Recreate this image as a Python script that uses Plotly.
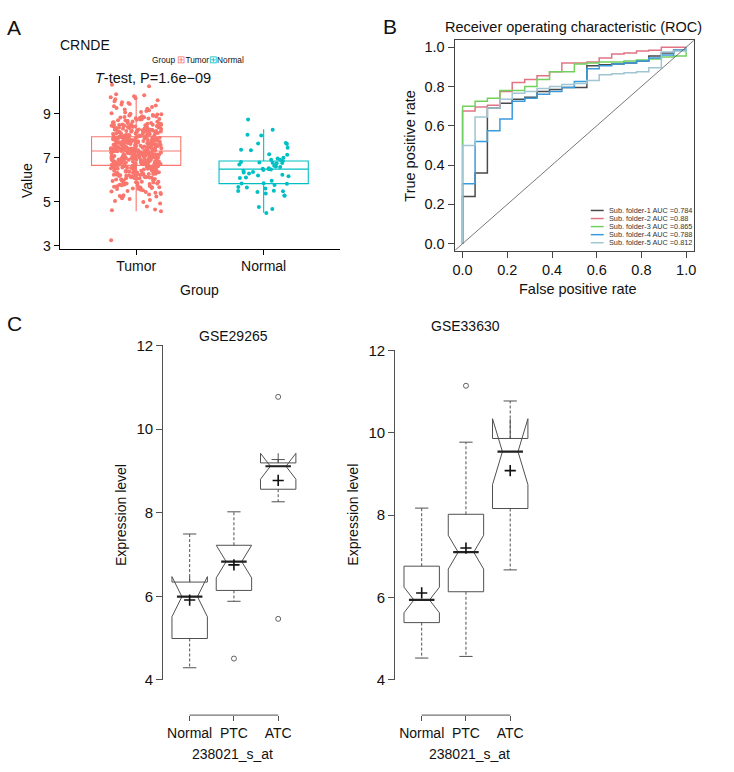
import math
import plotly.graph_objects as go

W, H = 734, 772
def fx(px): return px / W
def fy(py): return 1 - py / H

FONT = "Liberation Sans, Arial, Helvetica, sans-serif"

# ---------------- Panel A data ----------------
groups_a = ["Tumor", "Normal"]
colors_a = ["#F8766D", "#00BFC4"]
tumor_values = [
    3.25,
    4.57, 4.61, 4.64, 4.78, 4.92, 4.98,
    5.03, 5.07, 5.12, 5.16, 5.2, 5.23, 5.26, 5.29, 5.33, 5.35, 5.39, 5.41, 5.44, 5.46, 5.49,
    5.52, 5.54, 5.57, 5.59, 5.6, 5.62, 5.65, 5.66, 5.68, 5.7, 5.71, 5.73, 5.75, 5.77, 5.78,
    5.8, 5.82, 5.83, 5.85, 5.87, 5.88, 5.9, 5.91, 5.93, 5.94, 5.96, 5.97, 5.99, 5.64, 5.81,
    6.01, 6.03, 6.04, 6.06, 6.07, 6.09, 6.1, 6.11, 6.13, 6.14, 6.15, 6.17, 6.18, 6.19, 6.21,
    6.22, 6.23, 6.25, 6.26, 6.27, 6.28, 6.3, 6.31, 6.32, 6.34, 6.35, 6.36, 6.38, 6.39, 6.4,
    6.42, 6.43, 6.44, 6.45, 6.47, 6.48, 6.49, 6.02, 6.05, 6.08, 6.12, 6.16, 6.2, 6.24, 6.29,
    6.33, 6.37, 6.41, 6.46, 6.5, 6.19, 6.26, 6.31, 6.36, 6.42, 6.11, 6.23, 6.38, 6.45,
    6.51, 6.52, 6.53, 6.54, 6.55, 6.56, 6.57, 6.58, 6.59, 6.6, 6.61, 6.62, 6.63, 6.64, 6.65,
    6.66, 6.67, 6.68, 6.69, 6.7, 6.71, 6.72, 6.73, 6.74, 6.75, 6.76, 6.77, 6.78, 6.79, 6.8,
    6.81, 6.82, 6.83, 6.84, 6.85, 6.86, 6.87, 6.88, 6.89, 6.9, 6.91, 6.92, 6.93, 6.94, 6.95,
    6.96, 6.97, 6.98, 6.99, 6.52, 6.54, 6.57, 6.6, 6.62, 6.65, 6.68, 6.7, 6.73, 6.75, 6.77,
    6.8, 6.82, 6.85, 6.87, 6.9, 6.92, 6.94, 6.97, 6.99, 6.55, 6.59, 6.63, 6.67, 6.71, 6.74,
    6.78, 6.83, 6.86, 6.89, 6.93, 6.96, 6.53, 6.61, 6.69, 6.76, 6.84, 6.91, 6.98,
    7.01, 7.02, 7.03, 7.04, 7.05, 7.06, 7.07, 7.08, 7.09, 7.1, 7.11, 7.12, 7.13, 7.14, 7.15,
    7.16, 7.17, 7.18, 7.19, 7.2, 7.21, 7.22, 7.23, 7.24, 7.25, 7.26, 7.27, 7.28, 7.29, 7.3,
    7.31, 7.32, 7.33, 7.34, 7.35, 7.36, 7.37, 7.38, 7.39, 7.4, 7.41, 7.42, 7.43, 7.44, 7.45,
    7.46, 7.47, 7.48, 7.49, 7.5, 7.0, 7.03, 7.05, 7.06, 7.08, 7.1, 7.11, 7.13, 7.15, 7.16,
    7.18, 7.2, 7.21, 7.23, 7.25, 7.26, 7.28, 7.3, 7.31, 7.33, 7.35, 7.36, 7.38, 7.4, 7.41,
    7.43, 7.45, 7.46, 7.48, 7.49, 7.02, 7.07, 7.12, 7.17, 7.22, 7.27, 7.32, 7.37, 7.42, 7.47,
    7.04, 7.09, 7.14, 7.19, 7.24, 7.29, 7.34, 7.39, 7.44, 7.5,
    7.51, 7.52, 7.53, 7.54, 7.55, 7.56, 7.57, 7.58, 7.59, 7.6, 7.61, 7.62, 7.63, 7.64, 7.65,
    7.66, 7.67, 7.68, 7.69, 7.7, 7.71, 7.72, 7.73, 7.74, 7.75, 7.76, 7.77, 7.78, 7.79, 7.8,
    7.81, 7.82, 7.83, 7.84, 7.85, 7.86, 7.87, 7.88, 7.89, 7.9, 7.91, 7.92, 7.93, 7.94, 7.95,
    7.96, 7.97, 7.98, 7.99, 7.52, 7.54, 7.57, 7.6, 7.62, 7.65, 7.68, 7.7, 7.73, 7.75, 7.77,
    7.8, 7.82, 7.85, 7.87, 7.9, 7.92, 7.94, 7.97, 7.99, 7.55, 7.59, 7.63, 7.67, 7.71, 7.74,
    7.78, 7.83, 7.86, 7.89, 7.93, 7.96, 7.53, 7.61, 7.69, 7.76, 7.84, 7.91, 7.98,
    8.01, 8.02, 8.03, 8.04, 8.05, 8.06, 8.07, 8.08, 8.09, 8.1, 8.11, 8.12, 8.13, 8.14, 8.15,
    8.16, 8.17, 8.18, 8.19, 8.2, 8.21, 8.22, 8.23, 8.24, 8.25, 8.26, 8.27, 8.28, 8.29, 8.3,
    8.31, 8.32, 8.33, 8.34, 8.35, 8.36, 8.37, 8.38, 8.39, 8.4, 8.41, 8.42, 8.43, 8.44, 8.45,
    8.46, 8.47, 8.48, 8.49, 8.5, 8.03, 8.06, 8.09, 8.12, 8.15, 8.18, 8.21, 8.24, 8.27, 8.3,
    8.33, 8.36, 8.39, 8.42, 8.45, 8.48,
    8.51, 8.52, 8.54, 8.55, 8.57, 8.58, 8.6, 8.61, 8.63, 8.64, 8.66, 8.67, 8.69, 8.7, 8.72,
    8.73, 8.75, 8.76, 8.78, 8.79, 8.81, 8.82, 8.84, 8.85, 8.87, 8.88, 8.9, 8.91, 8.93, 8.94,
    8.96, 8.97, 8.99, 8.53,
    9.02, 9.05, 9.08, 9.12, 9.15, 9.19, 9.22, 9.26, 9.3, 9.33, 9.37, 9.41, 9.44, 9.48,
    9.52, 9.56, 9.61, 9.65, 9.7, 9.74, 9.79, 9.84, 9.88,
    10.25, 10.31,
]
normal_values = [
    8.73, 8.27, 8.04, 8.01, 7.64, 7.62, 7.67, 7.34, 7.36, 7.15, 7.13, 6.96, 6.91, 6.78, 6.85,
    6.8, 6.76, 6.77, 6.74, 6.63, 6.6, 6.48, 6.5, 6.46, 6.52, 6.44, 6.33, 6.35, 6.19, 6.15,
    6.22, 6.07, 6.1, 5.81, 5.76, 5.84, 5.83, 5.64, 5.67, 5.6, 5.47, 5.44, 5.5, 5.48, 5.37,
    5.27, 5.28, 4.76, 4.67, 4.48, 6.9, 6.69, 6.58, 6.4, 7.0, 7.45, 5.95, 6.28,
]
box_a_q1 = [6.65, 5.82]
box_a_median = [7.3, 6.48]
box_a_q3 = [7.95, 6.85]
box_a_lower = [4.56, 4.5]
box_a_upper = [9.84, 8.29]

# ---------------- Panel B data ----------------
fpr_steps = [0.0, 0.056, 0.111, 0.167, 0.222, 0.278, 0.333, 0.389, 0.444, 0.5,
             0.556, 0.611, 0.667, 0.722, 0.778, 0.833, 0.889, 0.944, 1.0]
roc_tpr_1 = [0.24, 0.36, 0.69, 0.715, 0.735, 0.745, 0.775, 0.785, 0.795, 0.795,
             0.905, 0.91, 0.915, 0.92, 0.93, 0.955, 0.97, 0.985, 1.0]
roc_tpr_2 = [0.675, 0.695, 0.705, 0.775, 0.82, 0.835, 0.855, 0.875, 0.92, 0.92,
             0.925, 0.945, 0.965, 0.97, 0.98, 0.985, 1.0, 1.0, 1.0]
roc_tpr_3 = [0.70, 0.725, 0.74, 0.78, 0.78, 0.80, 0.835, 0.875, 0.875, 0.915,
             0.92, 0.925, 0.925, 0.93, 0.935, 0.94, 0.95, 0.955, 1.0]
roc_tpr_4 = [0.305, 0.52, 0.575, 0.635, 0.725, 0.74, 0.76, 0.775, 0.795, 0.825,
             0.89, 0.905, 0.915, 0.92, 0.93, 0.945, 0.96, 0.985, 1.0]
roc_tpr_5 = [0.50, 0.645, 0.69, 0.735, 0.765, 0.775, 0.79, 0.80, 0.81, 0.815,
             0.83, 0.86, 0.865, 0.87, 0.875, 0.895, 0.975, 0.98, 1.0]
folder_names = ["Sub. folder-1", "Sub. folder-2", "Sub. folder-3", "Sub. folder-4", "Sub. folder-5"]
folder_auc = ["0.784", "0.88", "0.865", "0.788", "0.812"]
folder_colors = ["#4a4a4a", "#E07485", "#72D05E", "#3A9BDC", "#9FC6D2"]

# ---------------- Panel C data ----------------
groups_c = ["Normal", "PTC", "ATC"]
c1_q1 = [4.99, 6.14, 8.56]
c1_median = [5.99, 6.83, 9.11]
c1_q3 = [6.34, 7.22, 9.19]
c1_whisk_lo = [4.29, 5.88, 8.26]
c1_whisk_hi = [7.49, 8.02, 9.27]
c1_notch = [0.48, 0.39, 0.31]
c1_mean = [5.91, 6.75, 8.77]
c1_out_group = ["PTC", "ATC", "ATC"]
c1_out_value = [4.51, 10.77, 5.46]

c2_q1 = [5.39, 6.14, 8.16]
c2_median = [5.94, 7.10, 9.54]
c2_q3 = [6.76, 8.02, 9.86]
c2_whisk_lo = [4.53, 4.57, 6.67]
c2_whisk_hi = [8.17, 9.77, 10.77]
c2_notch = [0.31, 0.41, 0.80]
c2_mean = [6.11, 7.20, 9.08]
c2_out_group = ["PTC"]
c2_out_value = [11.14]

fig = go.Figure()

# ---------- Panel A ----------
def hash01(i):
    return (math.sin(i * 12.9898 + 4.1414) * 43758.5453) % 1.0

for k, (g, col) in enumerate(zip(groups_a, colors_a)):
    fig.add_trace(go.Box(
        x=[k + 1], q1=[box_a_q1[k]], median=[box_a_median[k]], q3=[box_a_q3[k]],
        lowerfence=[box_a_lower[k]], upperfence=[box_a_upper[k]],
        width=0.7, whiskerwidth=0, boxpoints=False,
        line=dict(color=col, width=1.1), fillcolor="rgba(0,0,0,0)",
        xaxis="x", yaxis="y", showlegend=False, hoverinfo="skip"))

for k, (vals, col) in enumerate(zip([tumor_values, normal_values], colors_a)):
    xs = [k + 1 + 0.2 * (2 * hash01(i + 1000 * k) - 1) for i in range(len(vals))]
    fig.add_trace(go.Scatter(
        x=xs, y=vals, mode="markers",
        marker=dict(color=col, size=4, line=dict(width=0)),
        xaxis="x", yaxis="y", showlegend=False, hoverinfo="skip"))

# ---------- Panel B ----------
roc_all = [roc_tpr_1, roc_tpr_2, roc_tpr_3, roc_tpr_4, roc_tpr_5]
for tpr, col, name in zip(roc_all, folder_colors, folder_names):
    fig.add_trace(go.Scatter(
        x=[0.0] + fpr_steps, y=[0.0] + tpr, mode="lines",
        line=dict(color=col, width=1.5, shape="hv"),
        xaxis="x2", yaxis="y2", showlegend=False, name=name, hoverinfo="skip"))

# ---------- Panel C ----------
BOXC = "#505050"
def add_notched(q1, med, q3, lo, hi, notch, mean, out_g, out_v, xa, ya):
    pos = [1, 2, 3]
    fig.add_trace(go.Box(
        x=pos, q1=q1, median=med, q3=q3, lowerfence=q1, upperfence=q3,
        notched=True, notchspan=notch, notchwidth=0.28, width=0.8, whiskerwidth=0,
        boxpoints=False, line=dict(color=BOXC, width=1), fillcolor="rgba(0,0,0,0)",
        xaxis=xa, yaxis=ya, showlegend=False, hoverinfo="skip"))
    wx, wy = [], []
    for p, a, b, c, d in zip(pos, q1, lo, q3, hi):
        wx += [p, p, None, p, p, None]
        wy += [a, b, None, c, d, None]
    fig.add_trace(go.Scatter(x=wx, y=wy, mode="lines",
                             line=dict(color=BOXC, width=1, dash="3px,2px"),
                             xaxis=xa, yaxis=ya, showlegend=False, hoverinfo="skip"))
    sx, sy = [], []
    for p, b, d in zip(pos, lo, hi):
        sx += [p - 0.15, p + 0.15, None, p - 0.15, p + 0.15, None]
        sy += [b, b, None, d, d, None]
    fig.add_trace(go.Scatter(x=sx, y=sy, mode="lines",
                             line=dict(color=BOXC, width=1),
                             xaxis=xa, yaxis=ya, showlegend=False, hoverinfo="skip"))
    mx, my = [], []
    hw = 0.4 * (1 - 0.28)
    for p, m in zip(pos, med):
        mx += [p - hw, p + hw, None]
        my += [m, m, None]
    fig.add_trace(go.Scatter(x=mx, y=my, mode="lines",
                             line=dict(color="#222222", width=2.2),
                             xaxis=xa, yaxis=ya, showlegend=False, hoverinfo="skip"))
    fig.add_trace(go.Scatter(x=pos, y=mean, mode="markers",
                             marker=dict(symbol="cross-thin", size=8, color="#111111",
                                         line=dict(color="#111111", width=1.6)),
                             xaxis=xa, yaxis=ya, showlegend=False, hoverinfo="skip"))
    idx = {g: i + 1 for i, g in enumerate(groups_c)}
    fig.add_trace(go.Scatter(x=[idx[g] for g in out_g], y=out_v, mode="markers",
                             marker=dict(symbol="circle-open", size=5, color=BOXC,
                                         line=dict(color=BOXC, width=0.9)),
                             xaxis=xa, yaxis=ya, showlegend=False, hoverinfo="skip"))

add_notched(c1_q1, c1_median, c1_q3, c1_whisk_lo, c1_whisk_hi, c1_notch, c1_mean,
            c1_out_group, c1_out_value, "x3", "y3")
add_notched(c2_q1, c2_median, c2_q3, c2_whisk_lo, c2_whisk_hi, c2_notch, c2_mean,
            c2_out_group, c2_out_value, "x4", "y4")

# ---------- Layout ----------
tick_common = dict(showgrid=False, zeroline=False, ticks="outside")

layout = dict(
    width=W, height=H, margin=dict(l=0, r=0, t=0, b=0),
    paper_bgcolor="white", plot_bgcolor="white",
    font=dict(family=FONT, color="#111111", size=14),
    showlegend=False, hovermode=False,
    xaxis=dict(domain=[fx(58), fx(340)], range=[0.4, 2.6], anchor="y",
               tickvals=[1, 2], ticktext=groups_a, showline=True, linecolor="black",
               linewidth=1, ticklen=5, tickcolor="black", tickfont=dict(size=14),
               **tick_common),
    yaxis=dict(domain=[fy(245), fy(68)], range=[2.867, 10.733], anchor="x",
               tickvals=[3, 5, 7, 9], showline=True, linecolor="black", linewidth=1,
               ticklen=5, tickcolor="black", tickfont=dict(size=14), **tick_common),
    xaxis2=dict(domain=[fx(455), fx(696)], range=[-0.036, 1.036], anchor="y2",
                tickvals=[0, 0.2, 0.4, 0.6, 0.8, 1.0],
                ticktext=["0.0", "0.2", "0.4", "0.6", "0.8", "1.0"],
                showline=True, mirror=True, linecolor="#444444", linewidth=1,
                ticklen=6, tickcolor="#444444", tickfont=dict(size=14.5), **tick_common),
    yaxis2=dict(domain=[fy(247), fy(32)], range=[-0.035, 1.035], anchor="x2",
                tickvals=[0, 0.2, 0.4, 0.6, 0.8, 1.0],
                ticktext=["0.0", "0.2", "0.4", "0.6", "0.8", "1.0"],
                showline=True, mirror=True, linecolor="#444444", linewidth=1,
                ticklen=6, tickcolor="#444444", tickfont=dict(size=14.5), **tick_common),
    xaxis3=dict(domain=[fx(162), fx(304.4)], range=[0.4, 3.6], anchor="free",
                position=fy(722), tickvals=[1, 2, 3], ticktext=groups_c,
                showline=False, ticklen=5, tickcolor=BOXC,
                tickfont=dict(size=14), **tick_common),
    yaxis3=dict(domain=[fy(686), fy(344)], range=[4, 12], anchor="x3",
                tickvals=[4, 6, 8, 10, 12], showline=True, linecolor=BOXC,
                linewidth=1, ticklen=6, tickcolor=BOXC,
                tickfont=dict(size=15), **tick_common),
    xaxis4=dict(domain=[fx(395.3), fx(537.7)], range=[0.4, 3.6], anchor="free",
                position=fy(722), tickvals=[1, 2, 3], ticktext=groups_c,
                showline=False, ticklen=5, tickcolor=BOXC,
                tickfont=dict(size=14), **tick_common),
    yaxis4=dict(domain=[fy(686), fy(349)], range=[4, 12], anchor="x4",
                tickvals=[4, 6, 8, 10, 12], showline=True, linecolor=BOXC,
                linewidth=1, ticklen=6, tickcolor=BOXC,
                tickfont=dict(size=15), **tick_common),
)

ann = []
def A(text, x, y, size=14, xanchor="center", yanchor="middle", angle=0, color="#111111"):
    ann.append(dict(text=text, x=fx(x), y=fy(y), xref="paper", yref="paper",
                    xanchor=xanchor, yanchor=yanchor, showarrow=False, textangle=angle,
                    font=dict(size=size, family=FONT, color=color)))

A("A", 3, 19, size=21, xanchor="left")
A("B", 381, 18, size=21, xanchor="left")
A("C", 3, 322, size=21, xanchor="left")
A("CRNDE", 56, 37, size=14, xanchor="left")
A("Group <span style='color:#F8766D;font-size:10px'>⊞</span>Tumor"
  "<span style='color:#00BFC4;font-size:10px'>⊞</span>Normal",
  149, 52, size=8.3, xanchor="left")
A("<i>T</i>-test, P=1.6e−09", 152, 71, size=14.5)
A("Value", 25, 175, size=14, angle=-90)
A("Group", 199, 287, size=14)
A("Receiver operating characteristic (ROC)", 575, 18, size=14.5)
A("False positive rate", 579, 286, size=14.5)
A("True positive rate", 410, 140, size=14.5, angle=-90)
A("GSE29265", 233, 334, size=14)
A("GSE33630", 466, 324, size=14)
A("Expression level", 119, 517, size=14, angle=-90)
A("Expression level", 353, 517, size=14, angle=-90)
A("238021_s_at", 232, 762, size=14)
A("238021_s_at", 470, 762, size=14)

shapes = []
shapes.append(dict(type="line", xref="x2", yref="y2", x0=-0.035, y0=-0.035, x1=1.035, y1=1.035,
                   line=dict(color="#555555", width=0.8)))
for k, (name, auc, col) in enumerate(zip(folder_names, folder_auc, folder_colors)):
    ypx = 206 + k * 8.25
    shapes.append(dict(type="line", xref="paper", yref="paper", x0=fx(592), x1=fx(605),
                       y0=fy(ypx), y1=fy(ypx), line=dict(color=col, width=1.5)))
    A(f"{name} AUC ={auc}", 608, ypx, size=7.3, xanchor="left", color="#333333")
for xa in ["x3", "x4"]:
    shapes.append(dict(type="line", xref=xa, yref="paper", x0=1, x1=len(groups_c),
                       y0=fy(722), y1=fy(722), line=dict(color=BOXC, width=1)))

layout["annotations"] = ann
layout["shapes"] = shapes
fig.update_layout(**layout)
fig.write_html("out.html",
               config={"displayModeBar": False, "staticPlot": True},
               post_script="document.body.style.margin='0px';"
                           "document.body.style.overflow='hidden';")
